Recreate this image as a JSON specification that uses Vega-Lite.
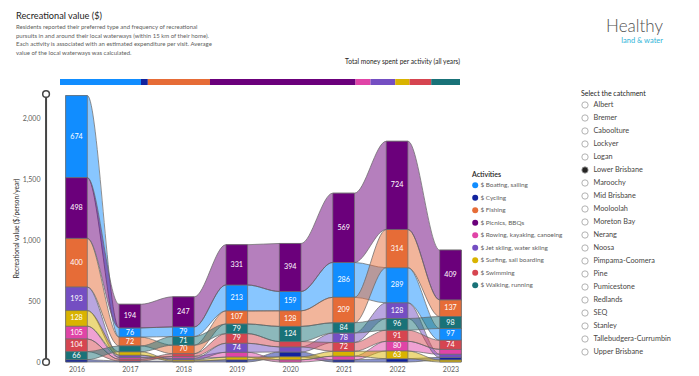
{
  "$schema": "https://vega.github.io/schema/vega-lite/v6.json",
  "padding": {"left": 13, "top": 11, "right": 5, "bottom": 0},
  "background": "white",
  "config": {
    "font": "Lato",
    "view": {"stroke": null},
    "title": {"font": "Lato", "subtitleFont": "Lato"},
    "axis": {"labelFont": "Lato", "titleFont": "Lato"},
    "legend": {"labelFont": "Lato", "titleFont": "Lato"}
  },
  "title": {
    "text": "Recreational value ($)",
    "subtitle": [
      "Residents reported their preferred type and frequency of recreational",
      "pursuits in and around their local waterways (within 15 km of their home).",
      "Each activity is associated with an estimated expenditure per visit. Average",
      "value of the local waterways was calculated."
    ],
    "anchor": "start",
    "frame": "group",
    "dx": -44,
    "offset": -38,
    "fontSize": 9.2,
    "fontWeight": "normal",
    "color": "#252423",
    "subtitleFontSize": 6,
    "subtitleColor": "#605E5C",
    "subtitleLineHeight": 8.7,
    "subtitlePadding": 3
  },
  "datasets": {
    "rec": [
      {"year": 2016, "activity": "$ Boating, sailing", "value": 674},
      {"year": 2016, "activity": "$ Cycling", "value": 19},
      {"year": 2016, "activity": "$ Fishing", "value": 400},
      {"year": 2016, "activity": "$ Picnics, BBQs", "value": 498},
      {"year": 2016, "activity": "$ Rowing, kayaking, canoeing", "value": 105},
      {"year": 2016, "activity": "$ Jet skiing, water skiing", "value": 193},
      {"year": 2016, "activity": "$ Surfing, sail boarding", "value": 128},
      {"year": 2016, "activity": "$ Swimming", "value": 104},
      {"year": 2016, "activity": "$ Walking, running", "value": 66},
      {"year": 2017, "activity": "$ Boating, sailing", "value": 76},
      {"year": 2017, "activity": "$ Cycling", "value": 8},
      {"year": 2017, "activity": "$ Fishing", "value": 72},
      {"year": 2017, "activity": "$ Picnics, BBQs", "value": 194},
      {"year": 2017, "activity": "$ Rowing, kayaking, canoeing", "value": 16},
      {"year": 2017, "activity": "$ Jet skiing, water skiing", "value": 18},
      {"year": 2017, "activity": "$ Surfing, sail boarding", "value": 28},
      {"year": 2017, "activity": "$ Swimming", "value": 14},
      {"year": 2017, "activity": "$ Walking, running", "value": 48},
      {"year": 2018, "activity": "$ Boating, sailing", "value": 79},
      {"year": 2018, "activity": "$ Cycling", "value": 6},
      {"year": 2018, "activity": "$ Fishing", "value": 70},
      {"year": 2018, "activity": "$ Picnics, BBQs", "value": 247},
      {"year": 2018, "activity": "$ Rowing, kayaking, canoeing", "value": 16},
      {"year": 2018, "activity": "$ Jet skiing, water skiing", "value": 14},
      {"year": 2018, "activity": "$ Surfing, sail boarding", "value": 10},
      {"year": 2018, "activity": "$ Swimming", "value": 22},
      {"year": 2018, "activity": "$ Walking, running", "value": 71},
      {"year": 2019, "activity": "$ Boating, sailing", "value": 213},
      {"year": 2019, "activity": "$ Cycling", "value": 18},
      {"year": 2019, "activity": "$ Fishing", "value": 107},
      {"year": 2019, "activity": "$ Picnics, BBQs", "value": 331},
      {"year": 2019, "activity": "$ Rowing, kayaking, canoeing", "value": 40},
      {"year": 2019, "activity": "$ Jet skiing, water skiing", "value": 74},
      {"year": 2019, "activity": "$ Surfing, sail boarding", "value": 22},
      {"year": 2019, "activity": "$ Swimming", "value": 79},
      {"year": 2019, "activity": "$ Walking, running", "value": 79},
      {"year": 2020, "activity": "$ Boating, sailing", "value": 159},
      {"year": 2020, "activity": "$ Cycling", "value": 40},
      {"year": 2020, "activity": "$ Fishing", "value": 128},
      {"year": 2020, "activity": "$ Picnics, BBQs", "value": 394},
      {"year": 2020, "activity": "$ Rowing, kayaking, canoeing", "value": 18},
      {"year": 2020, "activity": "$ Jet skiing, water skiing", "value": 42},
      {"year": 2020, "activity": "$ Surfing, sail boarding", "value": 24},
      {"year": 2020, "activity": "$ Swimming", "value": 44},
      {"year": 2020, "activity": "$ Walking, running", "value": 124},
      {"year": 2021, "activity": "$ Boating, sailing", "value": 286},
      {"year": 2021, "activity": "$ Cycling", "value": 18},
      {"year": 2021, "activity": "$ Fishing", "value": 209},
      {"year": 2021, "activity": "$ Picnics, BBQs", "value": 569},
      {"year": 2021, "activity": "$ Rowing, kayaking, canoeing", "value": 30},
      {"year": 2021, "activity": "$ Jet skiing, water skiing", "value": 78},
      {"year": 2021, "activity": "$ Surfing, sail boarding", "value": 40},
      {"year": 2021, "activity": "$ Swimming", "value": 72},
      {"year": 2021, "activity": "$ Walking, running", "value": 84},
      {"year": 2022, "activity": "$ Boating, sailing", "value": 289},
      {"year": 2022, "activity": "$ Cycling", "value": 27},
      {"year": 2022, "activity": "$ Fishing", "value": 314},
      {"year": 2022, "activity": "$ Picnics, BBQs", "value": 724},
      {"year": 2022, "activity": "$ Rowing, kayaking, canoeing", "value": 80},
      {"year": 2022, "activity": "$ Jet skiing, water skiing", "value": 128},
      {"year": 2022, "activity": "$ Surfing, sail boarding", "value": 63},
      {"year": 2022, "activity": "$ Swimming", "value": 91},
      {"year": 2022, "activity": "$ Walking, running", "value": 96},
      {"year": 2023, "activity": "$ Boating, sailing", "value": 97},
      {"year": 2023, "activity": "$ Cycling", "value": 22},
      {"year": 2023, "activity": "$ Fishing", "value": 137},
      {"year": 2023, "activity": "$ Picnics, BBQs", "value": 409},
      {"year": 2023, "activity": "$ Rowing, kayaking, canoeing", "value": 41},
      {"year": 2023, "activity": "$ Jet skiing, water skiing", "value": 25},
      {"year": 2023, "activity": "$ Surfing, sail boarding", "value": 16},
      {"year": 2023, "activity": "$ Swimming", "value": 74},
      {"year": 2023, "activity": "$ Walking, running", "value": 98}
    ],
    "catchments": [
      {"catchment": "Albert"}, {"catchment": "Bremer"}, {"catchment": "Caboolture"},
      {"catchment": "Lockyer"}, {"catchment": "Logan"}, {"catchment": "Lower Brisbane"},
      {"catchment": "Maroochy"}, {"catchment": "Mid Brisbane"}, {"catchment": "Mooloolah"},
      {"catchment": "Moreton Bay"}, {"catchment": "Nerang"}, {"catchment": "Noosa"},
      {"catchment": "Pimpama-Coomera"}, {"catchment": "Pine"}, {"catchment": "Pumicestone"},
      {"catchment": "Redlands"}, {"catchment": "SEQ"}, {"catchment": "Stanley"},
      {"catchment": "Tallebudgera-Currumbin"}, {"catchment": "Upper Brisbane"}
    ],
    "slider": [{"end": "min", "v": 0}, {"end": "max", "v": 2200}]
  },
  "bounds": "flush",
  "spacing": 9,
  "vconcat": [
    {
      "width": 400,
      "height": 6,
      "title": {"text": "Total money spent per activity (all years)", "anchor": "end", "fontSize": 6.6, "fontWeight": "normal", "color": "#252423", "offset": 13},
      "data": {"name": "rec"},
      "transform": [
        {"aggregate": [{"op": "sum", "field": "value", "as": "total"}], "groupby": ["activity"]},
        {"calculate": "indexof(['$ Boating, sailing','$ Cycling','$ Fishing','$ Picnics, BBQs','$ Rowing, kayaking, canoeing','$ Jet skiing, water skiing','$ Surfing, sail boarding','$ Swimming','$ Walking, running'], datum.activity)", "as": "k"},
        {"window": [{"op": "sum", "field": "total", "as": "cum"}], "sort": [{"field": "k", "order": "ascending"}], "frame": [null, 0]},
        {"calculate": "datum.cum - datum.total", "as": "start"}
      ],
      "mark": {"type": "rect"},
      "encoding": {
        "x": {"field": "start", "type": "quantitative", "scale": {"nice": false, "zero": true}, "axis": null},
        "x2": {"field": "cum"},
        "color": {
          "field": "activity", "type": "nominal",
          "scale": {"domain": ["$ Boating, sailing", "$ Cycling", "$ Fishing", "$ Picnics, BBQs", "$ Rowing, kayaking, canoeing", "$ Jet skiing, water skiing", "$ Surfing, sail boarding", "$ Swimming", "$ Walking, running"],
                    "range": ["#118DFF", "#12239E", "#E66C37", "#6B007B", "#E044A7", "#744EC2", "#D9B300", "#D64550", "#197278"]},
          "legend": {"title": "Activities", "orient": "none", "legendX": 412, "legendY": 92, "symbolType": "circle", "symbolSize": 36, "symbolOpacity": 1, "symbolStrokeWidth": 0, "titleFontSize": 7, "titleFontWeight": 600, "titleColor": "#252423", "labelFontSize": 6.4, "labelColor": "#605E5C", "rowPadding": 5.5, "titlePadding": 4, "labelOffset": 2}
        }
      }
    },
    {
      "width": 400,
      "height": 268,
      "title": {"text": "Healthy", "subtitle": "land & water", "anchor": "end", "frame": "group", "dx": 203, "offset": 42, "fontSize": 17, "fontWeight": 300, "color": "#505050", "subtitleFontSize": 7.5, "subtitleColor": "#30b4d8", "subtitlePadding": 1},
      "data": {"name": "rec"},
      "transform": [
        {"window": [{"op": "sum", "field": "value", "as": "top"}], "groupby": ["year"], "sort": [{"field": "value", "order": "ascending"}, {"field": "activity", "order": "ascending"}], "frame": [null, 0]},
        {"calculate": "datum.top - datum.value", "as": "bottom"},
        {"calculate": "(datum.top + datum.bottom) / 2", "as": "mid"},
        {"calculate": "datum.year - 0.203", "as": "xl"},
        {"calculate": "datum.year + 0.203", "as": "xr"}
      ],
      "layer": [
        {
          "transform": [{"fold": ["xl", "xr"], "as": ["edge", "xpos"]}],
          "mark": {"type": "area", "interpolate": "monotone", "fillOpacity": 0.5, "stroke": "#666666", "strokeWidth": 0.8, "strokeOpacity": 0.9},
          "encoding": {
            "x": {"field": "xpos", "type": "quantitative",
                  "scale": {"domain": [2015.691, 2023.178], "nice": false, "zero": false},
                  "axis": {"title": null, "values": [2016, 2017, 2018, 2019, 2020, 2021, 2022, 2023], "format": "d", "labelFontSize": 7, "labelColor": "#605E5C", "domain": false, "ticks": false, "grid": false, "labelPadding": 3}},
            "y": {"field": "bottom", "type": "quantitative",
                  "scale": {"domain": [0, 2200], "nice": false},
                  "axis": {"title": "Recreational value ($/person/year)", "values": [0, 500, 1000, 1500, 2000], "format": ",.0f", "labelFontSize": 7, "labelColor": "#605E5C", "domain": false, "ticks": false, "grid": false, "labelPadding": 20, "titleFontSize": 6.6, "titleFontWeight": "normal", "titleColor": "#252423", "titlePadding": 3}},
            "y2": {"field": "top"},
            "color": {"field": "activity", "type": "nominal"},
            "detail": {"field": "activity", "type": "nominal"}
          }
        },
        {
          "mark": {"type": "rect", "stroke": "#707070", "strokeWidth": 0.7},
          "encoding": {
            "x": {"field": "xl", "type": "quantitative"},
            "x2": {"field": "xr"},
            "y": {"field": "bottom", "type": "quantitative"},
            "y2": {"field": "top"},
            "color": {
              "field": "activity", "type": "nominal",
              "scale": {"domain": ["$ Boating, sailing", "$ Cycling", "$ Fishing", "$ Picnics, BBQs", "$ Rowing, kayaking, canoeing", "$ Jet skiing, water skiing", "$ Surfing, sail boarding", "$ Swimming", "$ Walking, running"],
                        "range": ["#118DFF", "#12239E", "#E66C37", "#6B007B", "#E044A7", "#744EC2", "#D9B300", "#D64550", "#197278"]},
              "legend": {"title": "Activities", "orient": "none", "legendX": 412, "legendY": 92, "symbolType": "circle", "symbolSize": 36, "symbolOpacity": 1, "symbolStrokeWidth": 0, "titleFontSize": 7, "titleFontWeight": 600, "titleColor": "#252423", "labelFontSize": 6.4, "labelColor": "#605E5C", "rowPadding": 5.5, "titlePadding": 4, "labelOffset": 2}
            }
          }
        },
        {
          "transform": [{"filter": "datum.value >= 60"}],
          "mark": {"type": "text", "color": "white", "fontSize": 7.2},
          "encoding": {
            "x": {"field": "year", "type": "quantitative"},
            "y": {"field": "mid", "type": "quantitative"},
            "text": {"field": "value", "type": "quantitative"}
          }
        },
        {
          "data": {"name": "slider"},
          "mark": {"type": "rule", "color": "#444", "strokeWidth": 2},
          "encoding": {
            "x": {"datum": 2015.43},
            "y": {"aggregate": "min", "field": "v", "type": "quantitative"},
            "y2": {"aggregate": "max", "field": "v"}
          }
        },
        {
          "data": {"name": "slider"},
          "mark": {"type": "point", "filled": true, "fill": "white", "stroke": "#444", "strokeWidth": 1.5, "size": 45, "opacity": 1},
          "encoding": {
            "x": {"datum": 2015.43},
            "y": {"field": "v", "type": "quantitative"}
          }
        },
        {
          "data": {"name": "catchments"},
          "mark": {"type": "point", "filled": true, "opacity": 0},
          "encoding": {
            "fill": {
              "field": "catchment", "type": "nominal",
              "scale": {
                "domain": ["Albert", "Bremer", "Caboolture", "Lockyer", "Logan", "Lower Brisbane", "Maroochy", "Mid Brisbane", "Mooloolah", "Moreton Bay", "Nerang", "Noosa", "Pimpama-Coomera", "Pine", "Pumicestone", "Redlands", "SEQ", "Stanley", "Tallebudgera-Currumbin", "Upper Brisbane"],
                "range": ["white", "white", "white", "white", "white", "#252423", "white", "white", "white", "white", "white", "white", "white", "white", "white", "white", "white", "white", "white", "white"]
              },
              "legend": {"title": "Select the catchment", "orient": "none", "legendX": 521, "legendY": 11, "symbolType": "circle", "symbolSize": 40, "symbolOpacity": 1, "symbolStrokeColor": "#a0a0a0", "symbolStrokeWidth": 0.8, "titleFontSize": 7, "titleFontWeight": "normal", "titleColor": "#252423", "labelFontSize": 7.3, "labelColor": "#484644", "rowPadding": 3.0, "titlePadding": 4, "labelOffset": 4.5}
            }
          }
        }
      ]
    }
  ]
}
